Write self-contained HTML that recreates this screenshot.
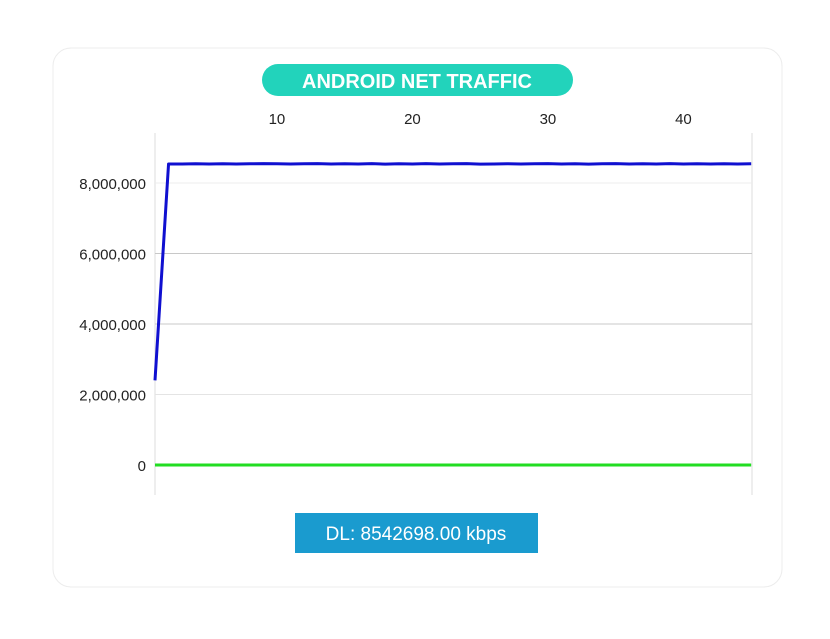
<!DOCTYPE html>
<html><head><meta charset="utf-8"><style>
body{margin:0;background:#fff;width:830px;height:634px;overflow:hidden;font-family:"Liberation Sans",sans-serif}
</style></head><body>
<svg width="830" height="634">
<rect x="53" y="48" width="729" height="539" rx="18" fill="#fff" stroke="#ececec" stroke-width="1"/>
<rect x="262" y="64" width="311" height="32" rx="16" fill="#22d3bb"/>
<text x="417" y="88" text-anchor="middle" font-size="20" font-weight="bold" fill="#fff">ANDROID NET TRAFFIC</text>
<g id="grid"></g><g id="ticks"></g><g id="series"></g>
<rect x="295" y="513" width="243" height="40" fill="#1a9bcf"/>
<text x="416" y="540" text-anchor="middle" font-size="19" fill="#fff">DL: 8542698.00 kbps</text>
</svg>
<script>
const xTicks=[10,20,30,40];
const yTicks=[0,2000000,4000000,6000000,8000000];
const yTickLabels=["0","2,000,000","4,000,000","6,000,000","8,000,000"];
const dlValues=[2400000,8540000,8540000,8545000,8540000,8545000,8540000,8545000,8550000,8545000,8540000,8545000,8550000,8540000,8545000,8540000,8550000,8535000,8545000,8540000,8550000,8540000,8545000,8550000,8535000,8540000,8545000,8540000,8545000,8550000,8540000,8545000,8535000,8545000,8550000,8540000,8545000,8540000,8550000,8540000,8545000,8540000,8545000,8540000,8545000];
const ulValues=dlValues.map(()=>0);
const NS="http://www.w3.org/2000/svg";
const X0=155,X1=752,Y0=465,Y1=183;
const xs=v=>X0+(v-1)*(X1-X0)/44.06;
const ys=v=>Y0-v*(Y0-Y1)/8000000;
const grid=document.getElementById('grid'),ticks=document.getElementById('ticks'),series=document.getElementById('series');
function mk(t,a,p){const e=document.createElementNS(NS,t);for(const k in a)e.setAttribute(k,a[k]);p.appendChild(e);return e;}
let ax=mk('line',{x1:X0,x2:X0,y1:133,y2:495,stroke:'#ddd'},grid);


let ax2=mk('line',{x1:X1,x2:X1,y1:133,y2:495,stroke:'#ddd'},grid);


const gridColors=['#ececec','#e4e4e4','#c8c8c8','#c8c8c8','#ececec'];
yTicks.forEach((v,i)=>{
 const g=mk('line',{x1:X0,x2:X1,y1:ys(v),y2:ys(v),stroke:gridColors[i]},grid);
 
 
 const t=mk('text',{x:146,y:ys(v)+6,'text-anchor':'end','font-size':15,fill:'#222'},ticks);
 t.textContent=yTickLabels[i];
 
 
});
xTicks.forEach(v=>{
 const t=mk('text',{x:xs(v),y:124,'text-anchor':'middle','font-size':15,fill:'#222'},ticks);
 t.textContent=v;
 
 
});
const ul=mk('polyline',{points:ulValues.map((v,i)=>xs(i+1)+','+ys(v)).join(' '),fill:'none',stroke:'#22dd22','stroke-width':3},series);


const dl=mk('polyline',{points:dlValues.map((v,i)=>xs(i+1)+','+ys(v)).join(' '),fill:'none',stroke:'#1010d0','stroke-width':3,'stroke-linejoin':'round'},series);


</script>
</body></html>
